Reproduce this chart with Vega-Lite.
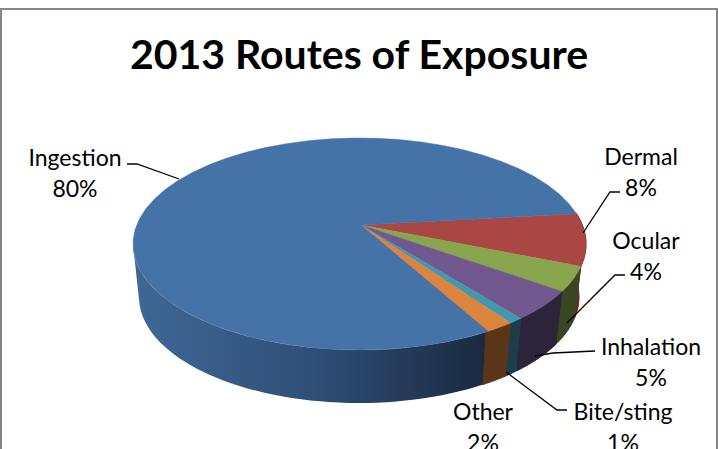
{"$schema":"https://vega.github.io/schema/vega-lite/v6.json","autosize":"none","padding":{"left":1,"top":9,"right":1,"bottom":0},"width":716,"height":460,"background":"#ffffff","title":{"text":"2013 Routes of Exposure","font":"Lato","fontWeight":"bold","fontSize":41,"color":"#000000","anchor":"middle","orient":"top","offset":-101,"baseline":"alphabetic"},"data":{"values":[{"seq":1,"route":"Dermal","value":8},{"seq":2,"route":"Ocular","value":4},{"seq":3,"route":"Inhalation","value":5},{"seq":4,"route":"Bite/sting","value":1},{"seq":5,"route":"Other","value":2},{"seq":6,"route":"Ingestion","value":80}]},"transform":[{"window":[{"op":"sum","field":"value","as":"cum"}],"sort":[{"field":"seq","order":"ascending"}]},{"calculate":"-0.29+2*PI*(datum.cum-datum.value)/100","as":"t0"},{"calculate":"-0.29+2*PI*datum.cum/100","as":"t1"}],"encoding":{"x":{"field":"px","type":"quantitative","scale":{"domain":[1,717]},"axis":null},"y":{"field":"py","type":"quantitative","scale":{"domain":[469,9]},"axis":null}},"layer":[{"transform":[{"filter":"datum.route==='Ingestion'"},{"calculate":"sequence(0,2.001,0.02)","as":"s"},{"flatten":["s"]},{"calculate":"datum.t0+(min(datum.t1,PI)-datum.t0)*(datum.s<=1?datum.s:2-datum.s)","as":"a"},{"calculate":"datum.s<=1?359.5+226.5*cos(datum.a):359+220*cos(datum.a)","as":"px"},{"calculate":"datum.s<=1?244+106*sin(datum.a):297+106*sin(datum.a)","as":"py"}],"mark":{"type":"line","interpolate":"linear-closed","strokeWidth":0,"fill":{"gradient":"linear","x1":0,"y1":0,"x2":1,"y2":0,"stops":[{"offset":0,"color":"#3f6897"},{"offset":0.5,"color":"#2f4f77"},{"offset":1,"color":"#19293f"}]}},"encoding":{"order":{"field":"s","type":"quantitative"}}},{"transform":[{"filter":"datum.route!=='Ingestion'"},{"calculate":"sequence(0,2.001,0.05)","as":"s"},{"flatten":["s"]},{"calculate":"datum.t0+(datum.t1+0.012-datum.t0)*(datum.s<=1?datum.s:2-datum.s)","as":"a"},{"calculate":"datum.s<=1?359.5+226.5*cos(datum.a):359+220*cos(datum.a)","as":"px"},{"calculate":"datum.s<=1?244+106*sin(datum.a):297+106*sin(datum.a)","as":"py"}],"mark":{"type":"line","interpolate":"linear-closed","strokeWidth":1},"encoding":{"order":{"field":"s","type":"quantitative"},"detail":{"field":"route"},"stroke":{"field":"route","type":"nominal","legend":null,"scale":{"domain":["Dermal","Ocular","Inhalation","Bite/sting","Other"],"range":["#612725","#3b4521","#2d233b","#1b3f4a","#5b3518"]}},"fill":{"field":"route","type":"nominal","legend":null,"scale":{"domain":["Dermal","Ocular","Inhalation","Bite/sting","Other"],"range":["#612725","#3b4521","#2d233b","#1b3f4a","#5b3518"]}}}},{"transform":[{"calculate":"sequence(-0.02,1.001,0.02)","as":"s"},{"flatten":["s"]},{"calculate":"datum.t0+(datum.t1-datum.t0)*datum.s","as":"a"},{"calculate":"datum.s<-0.01?361:359.5+226.5*cos(datum.a)","as":"px"},{"calculate":"datum.s<-0.01?225:244+106*sin(datum.a)","as":"py"}],"mark":{"type":"line","interpolate":"linear-closed","strokeWidth":0.5},"encoding":{"order":{"field":"s","type":"quantitative"},"detail":{"field":"route"},"stroke":{"field":"route","type":"nominal","legend":null,"scale":{"domain":["Ingestion","Dermal","Ocular","Inhalation","Bite/sting","Other"],"range":["#4572a7","#aa4643","#89a54e","#71588f","#4198af","#db843d"]}},"fill":{"field":"route","type":"nominal","legend":null,"scale":{"domain":["Ingestion","Dermal","Ocular","Inhalation","Bite/sting","Other"],"range":["#4572a7","#aa4643","#89a54e","#71588f","#4198af","#db843d"]}}}},{"transform":[{"filter":"datum.route!=='Other'"},{"calculate":"[0,1,2]","as":"i"},{"flatten":["i"]},{"calculate":"{'Ingestion':[127,137,179],'Dermal':[620,610,583],'Ocular':[625,615,567],'Inhalation':[595,553,535],'Bite/sting':[567,557,506]}[datum.route][datum.i]","as":"px"},{"calculate":"{'Ingestion':[164,164,179],'Dermal':[192,192,233],'Ocular':[275,275,323],'Inhalation':[351,353,356],'Bite/sting':[410,410,372]}[datum.route][datum.i]","as":"py"}],"mark":{"type":"line","color":"#000000","strokeWidth":1.3},"encoding":{"order":{"field":"i","type":"quantitative"},"detail":{"field":"route"}}},{"transform":[{"calculate":"datum.route+'\\n'+datum.value+'%'","as":"label"},{"calculate":"{'Ingestion':75,'Dermal':641,'Ocular':646,'Inhalation':651,'Bite/sting':623,'Other':483}[datum.route]","as":"px"},{"calculate":"{'Ingestion':166,'Dermal':165,'Ocular':249,'Inhalation':355,'Bite/sting':420,'Other':420}[datum.route]","as":"py"}],"mark":{"type":"text","font":"Lato","fontSize":23,"color":"#000000","align":"center","baseline":"alphabetic","lineBreak":"\n","lineHeight":31},"encoding":{"text":{"field":"label","type":"nominal"}}}],"resolve":{"scale":{"fill":"independent","stroke":"independent"}},"config":{"view":{"stroke":"#868686","strokeWidth":2,"fill":"#ffffff"}}}
